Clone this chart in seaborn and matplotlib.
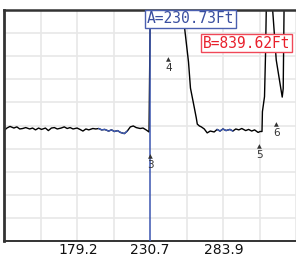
import matplotlib.pyplot as plt
import seaborn as sns
import pandas as pd

# OTDR trace (distance in ft, level in grid divisions)
dist_ft = [126.0, 128.1, 130.3, 133.1, 135.2, 137.3, 139.4, 141.6, 144.4, 146.5,
           148.6, 150.8, 152.9, 155.7, 157.8, 160.0, 162.1, 164.2, 167.0, 169.2,
           171.3, 173.4, 175.5, 178.4, 180.5, 182.6, 184.7, 186.8, 189.7, 191.8,
           193.9, 196.0, 198.2, 201.0, 203.1, 205.2, 207.4, 209.5, 212.3, 214.4,
           216.6, 218.7, 220.8, 223.6, 225.7, 227.9, 230.0,
           231.2, 250.0, 254.0, 255.5, 256.9, 258.3, 259.7, 261.1, 262.5, 263.9,
           264.6, 266.1,
           267.5, 269.6, 271.7, 273.9, 276.7, 278.8, 280.9, 283.0, 285.2, 288.0,
           290.1, 292.2, 294.4, 296.5, 299.3, 301.4, 303.6, 305.7, 308.2, 309.6,
           311.0, 311.3, 312.8, 313.5, 314.2, 314.9, 317.7, 318.4, 321.2, 324.1,
           325.5, 326.2, 326.9, 327.6, 336.0]
level = [4.78, 4.89, 4.96, 4.89, 4.94, 4.85, 4.87, 4.91, 4.85, 4.89,
         4.81, 4.89, 4.83, 4.89, 4.78, 4.89, 4.91, 4.85, 4.89, 4.94,
         4.87, 4.91, 4.85, 4.89, 4.83, 4.76, 4.85, 4.81, 4.87, 4.85,
         4.87, 4.81, 4.83, 4.76, 4.81, 4.74, 4.78, 4.70, 4.65, 4.76,
         4.94, 4.98, 4.91, 4.87, 4.89, 4.81, 4.72,
         12.0, 12.0, 10.0, 9.22, 8.48, 7.75, 6.62, 6.19, 5.76, 5.32,
         5.06, 4.98,
         4.94, 4.85, 4.68, 4.76, 4.72, 4.83, 4.76, 4.85, 4.78, 4.83,
         4.76, 4.85, 4.81, 4.87, 4.78, 4.83, 4.76, 4.81, 4.70, 4.74,
         4.74, 5.6, 6.25, 8.0, 10.5, 12.0, 12.0, 10.2, 7.84, 6.75,
         6.23, 6.6, 10.5, 12.0, 12.0]

blue_spans = [(193.9, 215.8), (277.4, 290.8)]

cursor_a = 230.73
cursor_b = 839.62
tick_ft = [179.2, 230.7, 283.9]

event_ids = ["3", "4", "5", "6"]
event_ft = [230.7, 244.1, 309.2, 321.2]
event_level = [3.64, 7.84, 4.07, 5.02]

df = pd.DataFrame({"dist_ft": dist_ft, "level": level})

sns.set_style("white")
plt.rcParams["font.family"] = ["DejaVu Sans"]

fig = plt.figure(figsize=(2.96, 2.57), dpi=100)
ax = fig.add_axes([4 / 296, 16 / 257, 292 / 296, 231 / 257])

x0, x1 = 126.0, 332.6
step = 26.17
ax.set_xlim(x0, x1)
ax.set_ylim(0, 10)
ax.set_xticks([tick_ft[1] + k * step for k in range(-4, 5)], minor=True)
ax.set_yticks(range(11), minor=True)
ax.set_yticks([])
ax.set_xticks(tick_ft)
ax.set_xticklabels([f"{t:.1f}" for t in tick_ft], fontsize=10, color="#111111")
ax.tick_params(which="both", length=0, pad=1.5)
ax.grid(which="minor", color="#e8e8e8", lw=1.2)
ax.grid(which="major", visible=False)
ax.set_axisbelow(True)

for side in ["left", "top", "bottom"]:
    ax.spines[side].set_color("#333333")
ax.spines["left"].set_linewidth(2.0)
ax.spines["top"].set_linewidth(1.8)
ax.spines["bottom"].set_linewidth(1.4)
ax.spines["right"].set_visible(False)

sns.lineplot(data=df, x="dist_ft", y="level", color="black", lw=1.0,
             estimator=None, sort=False, ax=ax)
for a, b in blue_spans:
    sub = df[(df["dist_ft"] >= a) & (df["dist_ft"] <= b)]
    sns.lineplot(data=sub, x="dist_ft", y="level", color="#3f5bb5", lw=1.0,
                 estimator=None, sort=False, ax=ax)

ax.axvline(cursor_a, color="#3a55b0", lw=1.1, zorder=4)

for eid, ex, ey in zip(event_ids, event_ft, event_level):
    ax.text(ex, ey, "\u25b2", fontsize=4.5, color="#333333", ha="center", va="center", zorder=5)
    ax.annotate(eid, (ex, ey), xytext=(0, -6), textcoords="offset points",
                fontsize=7.5, color="#333333", ha="center", va="center", zorder=5)

ax.set_xlabel("")
ax.set_ylabel("")

ax.text(0.637, 0.962, f"A={cursor_a:.2f}Ft", transform=ax.transAxes,
        ha="center", va="center", family="DejaVu Sans Mono", fontsize=10.5,
        color="#3a4fa0", zorder=6, clip_on=False,
        bbox=dict(boxstyle="square,pad=0.12", fc="white", ec="#4a5fb0", lw=1))
ax.text(0.830, 0.857, f"B={cursor_b:.2f}Ft", transform=ax.transAxes,
        ha="center", va="center", family="DejaVu Sans Mono", fontsize=10.5,
        color="#e8202c", zorder=6, clip_on=False,
        bbox=dict(boxstyle="square,pad=0.12", fc="white", ec="#f04858", lw=1))

fig.savefig("out.png", dpi=100)
